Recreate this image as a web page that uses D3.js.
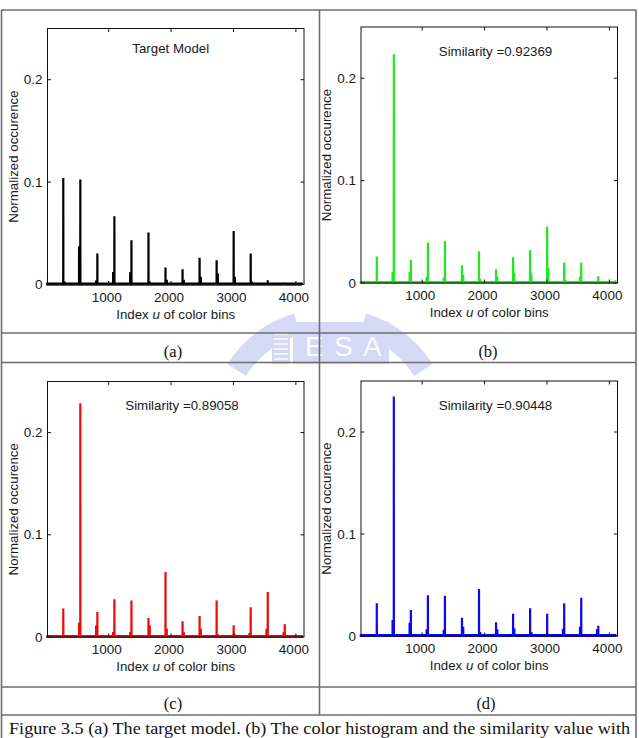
<!DOCTYPE html>
<html>
<head>
<meta charset="utf-8">
<script src="https://cdn.jsdelivr.net/npm/d3@7"></script>
<style>
  html, body { margin: 0; padding: 0; background: #fff; }
  svg { display: block; }
  .ax text { font-family: "Liberation Sans", Arial, sans-serif; fill: #1a1a1a; }
</style>
</head>
<body>
<svg id="fig" width="639" height="738"></svg>
<script>
// ---------------- DATA ----------------
// peak bin indices (r=g=b grey bins of a 16x16x16 colour histogram)
const peakBins = [273, 546, 819, 1092, 1365, 1638, 1911, 2184, 2457, 2730, 3003, 3276, 3549, 3822, 4095];

// (a) target model
const aMain   = [0.1040, 0.1026, 0.0302, 0.0666, 0.0432, 0.0507, 0.0166, 0.0149, 0.0260, 0.0237, 0.0523, 0.0302, 0.0042, 0.0017, 0.0017];
const aSecond = [0.0030, 0.0374, 0.0040, 0.0123, 0.0120, 0.0030, 0.0046, 0.0046, 0.0075, 0.0107, 0.0075, 0.0030, 0, 0, 0];
const aOffset = [20, -20, -20, -20, -20, 20, 20, 20, 20, 20, 20, 20, 0, 0, 0];

// (b) similarity 0.92369
const bMain   = [0.0258, 0.2235, 0.0228, 0.0395, 0.0411, 0.0173, 0.0310, 0.0134, 0.0251, 0.0323, 0.0548, 0.0199, 0.0199, 0.0065, 0.0026];
const bSecond = [0, 0.0108, 0.0108, 0.0060, 0.0050, 0.0080, 0.0040, 0.0060, 0.0100, 0.0085, 0.0150, 0.0030, 0.0060, 0, 0];
const bOffset = [0, -20, -20, -20, -20, 20, 20, 20, 20, 20, 20, 20, -20, 0, 0];

// (c) similarity 0.89058
const cMain   = [0.0278, 0.2288, 0.0245, 0.0369, 0.0356, 0.0186, 0.0637, 0.0154, 0.0206, 0.0356, 0.0114, 0.0291, 0.0441, 0.0124, 0.0020];
const cSecond = [0, 0.0140, 0.0114, 0.0050, 0.0050, 0.0114, 0.0080, 0.0050, 0.0080, 0.0026, 0.0026, 0.0040, 0.0080, 0.0050, 0];
const cOffset = [0, -20, -20, -20, -20, 20, 20, 20, 20, 20, 20, -20, -20, -20, 0];

// (d) similarity 0.90448
const dMain   = [0.0320, 0.2347, 0.0255, 0.0400, 0.0395, 0.0180, 0.0460, 0.0134, 0.0219, 0.0271, 0.0219, 0.0320, 0.0376, 0.0101, 0.0020];
const dSecond = [0, 0.0157, 0.0130, 0.0065, 0.0060, 0.0090, 0.0040, 0.0065, 0.0075, 0.0040, 0, 0.0070, 0.0090, 0.0065, 0];
const dOffset = [0, -20, -20, -20, -20, 20, 20, 20, 20, 20, 0, -20, -20, -20, 0];

const xTicks = [1000, 2000, 3000, 4000];
const yTicks = [0, 0.1, 0.2];
const yTickLabels = ["0", "0.1", "0.2"];
const xDomain = [20, 4130];
const yDomain = [0, 0.25];
const nBins = 4096;

const titles = ["Target Model", "Similarity =0.92369", "Similarity =0.89058", "Similarity =0.90448"];
const subLabels = ["(a)", "(b)", "(c)", "(d)"];
const xLabelPre = "Index ", xLabelVar = "u", xLabelPost = " of color bins";
const yLabel = "Normalized occurence";
const caption = "Figure 3.5 (a) The target model. (b) The color histogram and the similarity value with";

// ---------------- LAYOUT ----------------
const svg = d3.select("#fig");
const borderColor = "#6e6e6e";

// watermark (faint logo behind the table)
const wm = svg.append("g").attr("opacity", 0.38);
const wmc = "#8fa0e8";
const arc = d3.arc();
wm.append("path")
  .attr("transform", "translate(330,430)")
  .attr("d", arc({innerRadius: 100, outerRadius: 122, startAngle: -1.0, endAngle: -0.3}))
  .attr("fill", wmc);
wm.append("path")
  .attr("transform", "translate(330,430)")
  .attr("d", arc({innerRadius: 100, outerRadius: 122, startAngle: 0.3, endAngle: 1.0}))
  .attr("fill", wmc);
wm.append("rect").attr("x", 272).attr("y", 330).attr("width", 18).attr("height", 34).attr("fill", wmc);
wm.append("rect").attr("x", 293).attr("y", 322).attr("width", 96).attr("height", 42).attr("fill", wmc);
for (let i = 0; i < 6; i++) {
  wm.append("line").attr("x1", 274).attr("x2", 288).attr("y1", 334 + i * 5).attr("y2", 334 + i * 5)
    .attr("stroke", "#fff").attr("stroke-width", 1.5);
}
wm.selectAll("text.wm").data(["E", "S", "A"]).join("text")
  .attr("x", (d, i) => 305 + i * 29).attr("y", 356)
  .attr("font-family", "Liberation Sans, Arial, sans-serif").attr("font-size", 28)
  .attr("fill", "#fff").attr("opacity", 0.9).text(d => d);

// table lines
const hLines = [10, 333, 362.5, 687, 715];
const tb = svg.append("g").attr("stroke", borderColor).attr("stroke-width", 1.6).attr("fill", "none");
hLines.forEach(y => tb.append("line").attr("x1", 1).attr("x2", 636).attr("y1", y).attr("y2", y));
tb.append("line").attr("x1", 1.5).attr("x2", 1.5).attr("y1", 10).attr("y2", 738);
tb.append("line").attr("x1", 636).attr("x2", 636).attr("y1", 10).attr("y2", 738);
tb.append("line").attr("x1", 319.5).attr("x2", 319.5).attr("y1", 10).attr("y2", 715);

// sub-figure labels
const subPos = [[173, 351.5], [488, 351.5], [173, 703.5], [486, 703.5]];
svg.selectAll("text.sub").data(subLabels).join("text")
  .attr("class", "sub")
  .attr("x", (d, i) => subPos[i][0]).attr("y", (d, i) => subPos[i][1])
  .attr("text-anchor", "middle").attr("dominant-baseline", "central")
  .attr("font-family", "Liberation Serif, 'Times New Roman', serif").attr("font-size", 16.5)
  .attr("fill", "#111").text(d => d);

svg.append("text")
  .attr("x", 9).attr("y", 734)
  .attr("font-family", "Liberation Serif, 'Times New Roman', serif").attr("font-size", 17)
  .attr("textLength", 621).attr("lengthAdjust", "spacingAndGlyphs")
  .attr("fill", "#111").text(caption);

// ---------------- PANELS ----------------
const panels = [
  {main: aMain, second: aSecond, offset: aOffset, color: "#000000", box: [47.5, 304, 28.5, 284.5], title: titles[0], tdy: 19.5},
  {main: bMain, second: bSecond, offset: bOffset, color: "#1fe81f", box: [361, 617.5, 27, 283], title: titles[1], tdy: 24.5},
  {main: cMain, second: cSecond, offset: cOffset, color: "#ee0a0a", box: [47.5, 304, 381.5, 637], title: titles[2], tdy: 23.5},
  {main: dMain, second: dSecond, offset: dOffset, color: "#0a0aee", box: [361, 617.5, 381, 636], title: titles[3], tdy: 24}
];

panels.forEach((p, pi) => {
  const [x0, x1, y0, y1] = p.box;
  const x = d3.scaleLinear().domain(xDomain).range([x0, x1]);
  const y = d3.scaleLinear().domain(yDomain).range([y1, y0]);
  const g = svg.append("g").attr("class", "ax");

  // build the histogram polyline from the data arrays
  const pts = [[1, 0]];
  peakBins.forEach((b, i) => {
    const items = [[b, p.main[i]]];
    if (p.second[i] > 0) items.push([b + p.offset[i], p.second[i]]);
    items.forEach(([bb, v]) => { pts.push([bb - 1, 0], [bb, v], [bb + 1, 0]); });
  });
  pts.push([nBins, 0]);
  pts.sort((u, v) => u[0] - v[0]);

  const line = d3.line().x(d => x(d[0])).y(d => y(d[1]));

  g.append("rect").attr("x", x0).attr("y", y0).attr("width", x1 - x0).attr("height", y1 - y0)
    .attr("fill", "#fff").attr("stroke", "none");

  g.append("path").attr("d", line(pts)).attr("fill", "none")
    .attr("stroke", p.color).attr("stroke-width", 2.2).attr("stroke-linejoin", "bevel");
  // zero-level trace (thick baseline of the histogram line)
  g.append("path").attr("d", line([[1, 0], [nBins, 0]])).attr("fill", "none")
    .attr("stroke", p.color).attr("stroke-width", 2.6).attr("transform", "translate(0,-0.6)");

  g.append("rect").attr("x", x0).attr("y", y0).attr("width", x1 - x0).attr("height", y1 - y0)
    .attr("fill", "none").attr("stroke", "#111").attr("stroke-width", 1);

  // ticks (inward) on all four sides
  const tl = 3.5;
  xTicks.forEach(t => {
    g.append("line").attr("x1", x(t)).attr("x2", x(t)).attr("y1", y1).attr("y2", y1 - tl).attr("stroke", "#111");
    g.append("line").attr("x1", x(t)).attr("x2", x(t)).attr("y1", y0).attr("y2", y0 + tl).attr("stroke", "#111");
  });
  yTicks.forEach(t => {
    g.append("line").attr("x1", x0).attr("x2", x0 + tl).attr("y1", y(t)).attr("y2", y(t)).attr("stroke", "#111");
    g.append("line").attr("x1", x1).attr("x2", x1 - tl).attr("y1", y(t)).attr("y2", y(t)).attr("stroke", "#111");
  });

  // tick labels
  g.selectAll("text.xt").data(xTicks).join("text").attr("class", "xt")
    .attr("x", d => x(d) - 2).attr("y", y1 + 12.5)
    .attr("text-anchor", "middle").attr("dominant-baseline", "central")
    .attr("font-size", 13.5).text(d => d);
  g.selectAll("text.yt").data(yTicks).join("text").attr("class", "yt")
    .attr("x", x0 - 5).attr("y", d => y(d))
    .attr("text-anchor", "end").attr("dominant-baseline", "central")
    .attr("font-size", 13.5).text((d, i) => yTickLabels[i]);

  // axis labels
  const xl = g.append("text").attr("x", (x0 + x1) / 2).attr("y", y1 + 29)
    .attr("text-anchor", "middle").attr("dominant-baseline", "central").attr("font-size", 13.3);
  xl.append("tspan").text(xLabelPre);
  xl.append("tspan").attr("font-style", "italic").text(xLabelVar);
  xl.append("tspan").text(xLabelPost);

  g.append("text")
    .attr("transform", `translate(${x0 - 34.3},${(y0 + y1) / 2}) rotate(-90)`)
    .attr("text-anchor", "middle").attr("dominant-baseline", "central")
    .attr("font-size", 13.3).text(yLabel);

  // title inside the axes
  const tx = pi === 0 ? (x0 + x1) / 2 - 5 : x0 + 77 + 57.5;
  g.append("text").attr("x", tx).attr("y", y0 + p.tdy)
    .attr("text-anchor", "middle").attr("dominant-baseline", "central")
    .attr("font-size", 13.3).text(p.title);
});
</script>
</body>
</html>
